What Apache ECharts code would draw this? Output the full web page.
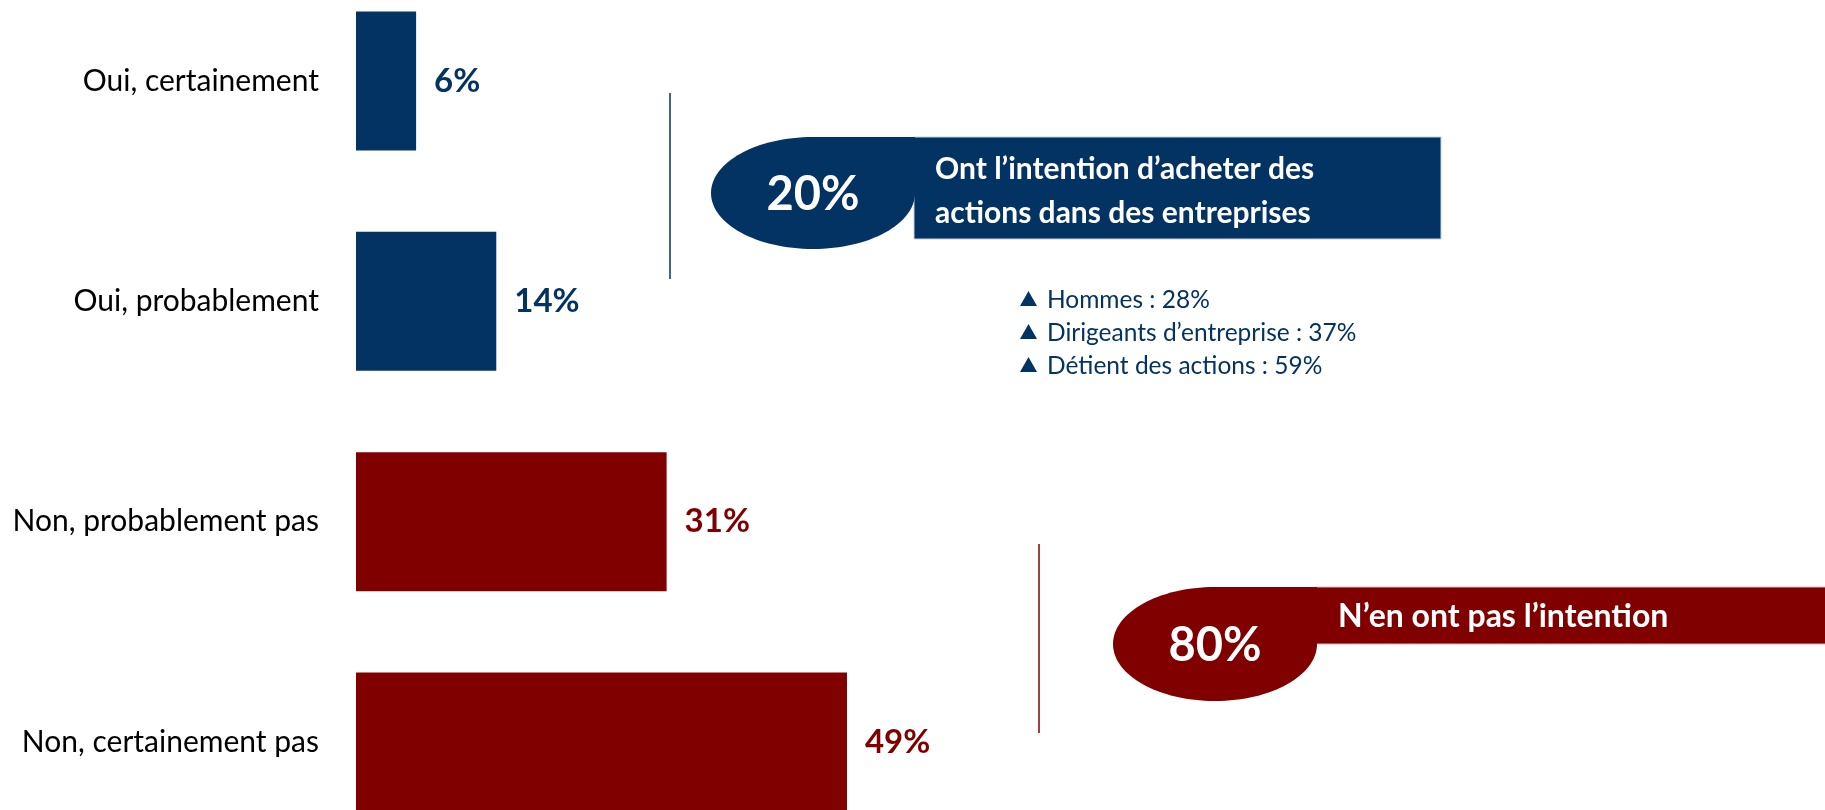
<!DOCTYPE html>
<html>
<head>
<meta charset="utf-8">
<script src="https://cdn.jsdelivr.net/npm/echarts@6/dist/echarts.min.js"></script>
<style>
html,body{margin:0;padding:0;background:#fff;}
#chart{width:1825px;height:810px;}
</style>
</head>
<body>
<div id="chart"></div>
<script>
// ---- data ----
const categories = ['Oui, certainement', 'Oui, probablement', 'Non, probablement pas', 'Non, certainement pas'];
const values = [6, 14, 31, 49];
const groups = ['oui', 'oui', 'non', 'non'];
const yesTitle = ['Ont l\u2019intention d\u2019acheter des', 'actions dans des entreprises'];
const noTitle = ['N\u2019en ont pas l\u2019intention'];
const subgroupLabels = ['Hommes', 'Dirigeants d\u2019entreprise', 'D\u00e9tient des actions'];
const subgroupValues = [28, 37, 59];

// ---- styles ----
const NAVY = '#033363';
const RED = '#800000';
const FONT = 'Lato';
const groupColor = {oui: NAVY, non: RED};

const yesTotal = values.filter((v, i) => groups[i] === 'oui').reduce((a, b) => a + b, 0);
const noTotal = values.filter((v, i) => groups[i] === 'non').reduce((a, b) => a + b, 0);

const chart = echarts.init(document.getElementById('chart'));

function bubble(cx, cy, rx, ry, color, label) {
  return [
    {type: 'ellipse', shape: {cx: cx, cy: cy, rx: rx, ry: ry}, style: {fill: color}, z: 10},
    {type: 'rect', shape: {x: cx, y: cy - ry, width: rx, height: ry}, style: {fill: color}, z: 10},
    {type: 'text', x: cx, y: cy + 2, z: 12,
     style: {text: label, fill: '#fff', fontFamily: FONT, fontWeight: 'bold', fontSize: 47,
             align: 'center', verticalAlign: 'middle'}}
  ];
}

const graphics = [];
// divider lines
graphics.push({type: 'line', shape: {x1: 670, y1: 93, x2: 670, y2: 279}, style: {stroke: NAVY, lineWidth: 1.5}});
graphics.push({type: 'line', shape: {x1: 1039, y1: 544, x2: 1039, y2: 733}, style: {stroke: RED, lineWidth: 1.5}});
// yes box
graphics.push({type: 'rect', shape: {x: 914, y: 137, width: 527, height: 102}, style: {fill: NAVY, stroke: '#c8d0da', lineWidth: 1}, z: 9});
graphics.push(...bubble(813, 193, 102, 56, NAVY, yesTotal + '%'));
yesTitle.forEach((t, i) => graphics.push({type: 'text', x: 935, y: 169 + i * 44, z: 12,
  style: {text: t, fill: '#fff', fontFamily: FONT, fontWeight: 'bold', fontSize: 30, verticalAlign: 'middle'}}));
// subgroups
subgroupLabels.forEach((t, i) => {
  const y = 300 + i * 33;
  graphics.push({type: 'polygon', shape: {points: [[1020, y + 6], [1037, y + 6], [1028.5, y - 9]]}, style: {fill: NAVY}});
  graphics.push({type: 'text', x: 1047, y: y, style: {text: t + ' : ' + subgroupValues[i] + '%', fill: NAVY,
    fontFamily: FONT, fontSize: 24.5, verticalAlign: 'middle'}});
});
// no box
graphics.push({type: 'rect', shape: {x: 1316, y: 587, width: 520, height: 57}, style: {fill: RED, stroke: '#d8b8b8', lineWidth: 1}, z: 9});
graphics.push(...bubble(1215, 644, 102, 57, RED, noTotal + '%'));
noTitle.forEach((t, i) => graphics.push({type: 'text', x: 1338, y: 617, z: 12,
  style: {text: t, fill: '#fff', fontFamily: FONT, fontWeight: 'bold', fontSize: 32, verticalAlign: 'middle'}}));

chart.setOption({
  animation: false,
  grid: {left: 356, right: 467, top: 81, bottom: 68, containLabel: false},
  xAxis: {type: 'value', min: 0, max: 100, show: false},
  yAxis: {
    type: 'category', inverse: true, data: categories, boundaryGap: false,
    axisLine: {show: false}, axisTick: {show: false}, splitLine: {show: false},
    axisLabel: {color: '#000', fontFamily: FONT, fontSize: 30, margin: 37}
  },
  series: [{
    type: 'bar',
    barWidth: 139,
    data: values.map((v, i) => ({value: v, itemStyle: {color: groupColor[groups[i]]},
      label: {color: groupColor[groups[i]]}})),
    label: {show: true, position: 'right', distance: 18, formatter: '{c}%',
            fontFamily: FONT, fontWeight: 'bold', fontSize: 33}
  }],
  graphic: graphics
});
</script>
</body>
</html>
